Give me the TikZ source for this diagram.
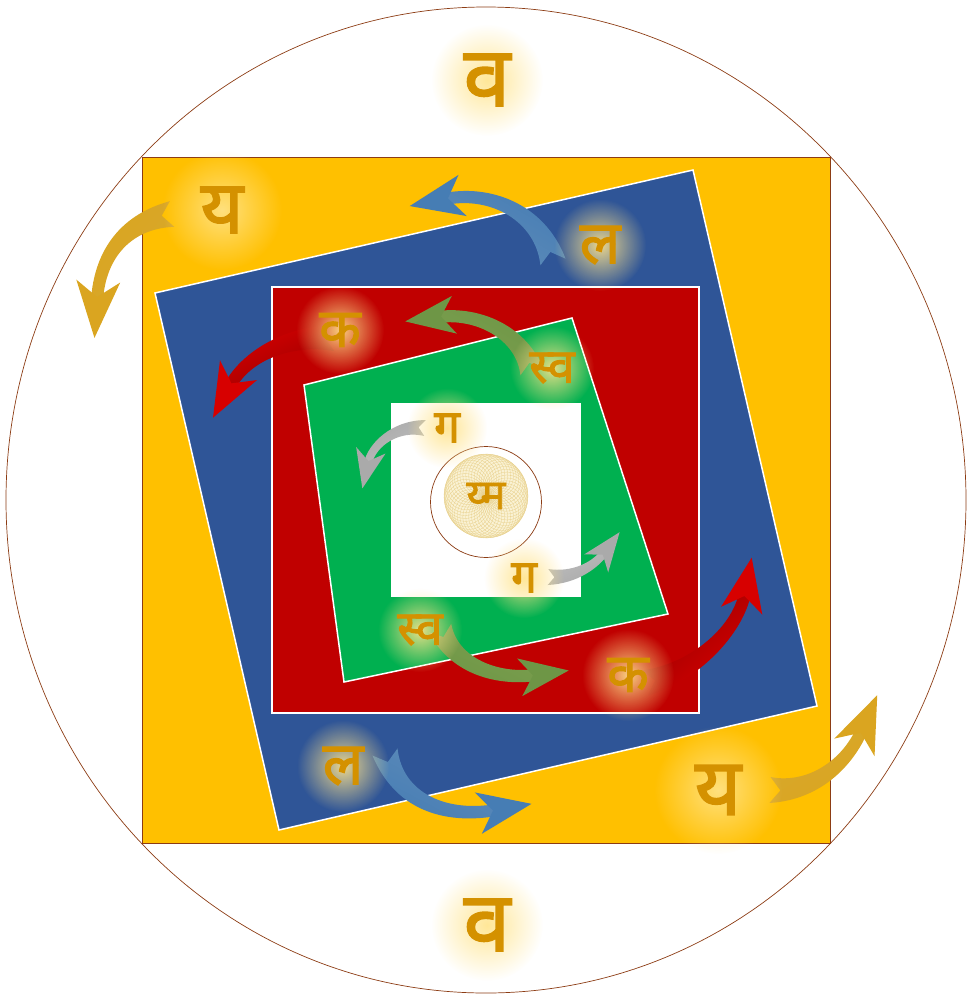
\documentclass[tikz,border=0pt]{standalone}
\usepackage{fontspec}
\newfontfamily\deva[Script=Devanagari, FakeBold=2]{Noto Sans}
\usetikzlibrary{calc,fadings}
\definecolor{ygold}{RGB}{255,192,0}
\definecolor{bblue}{RGB}{47,85,151}
\definecolor{rred}{RGB}{192,0,0}
\definecolor{ggreen}{RGB}{0,176,80}
\definecolor{brownline}{RGB}{140,60,20}
\definecolor{glyph}{RGB}{212,145,0}
\definecolor{glowc}{RGB}{255,228,140}
\definecolor{agold}{RGB}{218,165,32}
\definecolor{agoldT}{RGB}{215,168,45}
\definecolor{ablue}{RGB}{70,125,180}
\definecolor{ablueT}{RGB}{95,140,185}
\definecolor{ared}{RGB}{215,0,0}
\definecolor{aredT}{RGB}{150,0,0}
\definecolor{agreen}{RGB}{110,150,70}
\definecolor{agreenT}{RGB}{125,160,80}
\definecolor{agrey}{RGB}{170,170,170}
\definecolor{agreyT}{RGB}{190,190,190}
\definecolor{spirofill}{RGB}{250,242,212}
\definecolor{spiroline}{RGB}{232,208,140}
\tikzfading[name=glowfade, inner color=transparent!0, outer color=transparent!100]
\tikzset{
  syl/.style={font=\deva, text=glyph, inner sep=0pt},
  glow/.style={fill=glowc, path fading=glowfade, opacity=0.9},
  sqborder/.style={draw=white, line width=1.5pt},
}
% sizes: tail half width, neck half width, head length, head half width
\newcommand\swsize[4]{\def\swT{#1}\def\swN{#2}\def\swL{#3}\def\swW{#4}}
% #1 tail colour, #2 head colour, #3 tail, #4 ctrl1, #5 ctrl2, #6 head notch point
\newcommand\swoosh[6]{%
  \coordinate (sT) at #3; \coordinate (sA) at #4; \coordinate (sB) at #5; \coordinate (sE) at #6;
  \coordinate (sT1) at ($(sT)!\swT!-90:(sA)$);
  \coordinate (sT2) at ($(sT)!\swT!90:(sA)$);
  \coordinate (sN) at ($(sT)!0.8*\swT!(sA)$);
  \coordinate (sA1) at ($(sA)!0.8*\swT!-90:(sB)$);
  \coordinate (sA2) at ($(sA)!0.8*\swT!90:(sB)$);
  \coordinate (sB1) at ($(sB)!\swN!-90:(sE)$);
  \coordinate (sB2) at ($(sB)!\swN!90:(sE)$);
  \coordinate (sE1) at ($(sE)!\swN!90:(sB)$);
  \coordinate (sE2) at ($(sE)!\swN!-90:(sB)$);
  \coordinate (sTip) at ($(sE)!-\swL!(sB)$);
  \coordinate (sQ) at ($(sE)!0.5*\swL!(sB)$);
  \coordinate (sH1) at ($(sQ)!\swW!90:(sB)$);
  \coordinate (sH2) at ($(sQ)!\swW!-90:(sB)$);
  \pgfmathanglebetweenpoints{\pgfpointanchor{sT}{center}}{\pgfpointanchor{sE}{center}}%
  \let\sang\pgfmathresult
  \shade[left color=#1, right color=#2, shading angle=\sang] (sT1) .. controls (sA1) and (sB1) .. (sE1) -- (sE2) .. controls (sB2) and (sA2) .. (sT2) -- (sN) -- cycle;
  \fill[#2] (sTip) -- (sH1) -- ($(sE)!0.5*\swN!(sB)$) -- (sH2) -- cycle;
}
\begin{document}
\begin{tikzpicture}[x=1pt,y=-1pt]
\useasboundingbox (0,0) rectangle (972,994);
% outer circle
\draw[brownline, line width=0.7pt] (486,500) ellipse [x radius=480, y radius=493];
% yellow square
\fill[ygold, draw=brownline, line width=0.6pt] (142,157) rectangle (830,843);
% blue rotated square
\filldraw[bblue, sqborder] (155,293) -- (693,170) -- (817,706) -- (279,830) -- cycle;
% red square
\filldraw[rred, sqborder] (272,287) rectangle (699,713);
% green quad
\filldraw[ggreen, sqborder] (304,385) -- (572,318) -- (668,614) -- (344,682) -- cycle;
% white square
\fill[white] (391,403) rectangle (581,597);
% inner circle + spirograph
\draw[brownline, line width=0.7pt] (486,502) circle (55.5);
\fill[spirofill] (486,496) circle (42);
\foreach \a in {0,8,...,352} \draw[spiroline, line width=0.3pt] ($(486,496)+(\a:21)$) circle (21);
% arrows
\swsize{13pt}{6pt}{38pt}{22pt}
\swoosh{agoldT}{agold}{(172,214)}{(125,222)}{(100,255)}{(97,300)}
\swoosh{agoldT}{agold}{(770,790)}{(815,792)}{(848,762)}{(862,730)}
\swsize{13pt}{6pt}{36pt}{21pt}
\swoosh{ablueT}{ablue}{(553,262)}{(540,212)}{(490,190)}{(445,199)}
\swoosh{ablueT}{ablue}{(385,752)}{(400,805)}{(450,818)}{(496,810)}
\swoosh{aredT}{ared}{(335,338)}{(285,335)}{(245,358)}{(230,386)}
\swoosh{aredT}{ared}{(645,683)}{(695,672)}{(738,630)}{(745,593)}
\swsize{12pt}{6pt}{33pt}{19pt}
\swoosh{agreenT}{agreen}{(532,372)}{(520,330)}{(475,312)}{(438,317)}
\swoosh{agreenT}{agreen}{(440,628)}{(455,668)}{(500,680)}{(536,675)}
\swsize{8pt}{4pt}{26pt}{15pt}
\swoosh{agreyT}{agrey}{(425,428)}{(395,425)}{(372,445)}{(368,463)}
\swoosh{agreyT}{agrey}{(548,577)}{(575,578)}{(595,565)}{(604,553)}
% glows
\foreach \x/\y/\r in {487/80/56, 487/925/56, 222/210/60, 718/790/64, 600/245/46, 343/766/46, 340/330/44, 628/675/46, 552/368/42, 420/630/42, 447/428/40, 524/578/40}
  \fill[glow] (\x,\y) circle (\r);
% glyphs
\node[syl, font=\deva\fontsize{84}{86}\selectfont] (vaT) at (487,80) {व};
\node[syl, font=\deva\fontsize{84}{86}\selectfont] (vaB) at (487,925) {व};
\node[syl, font=\deva\fontsize{74}{76}\selectfont] (yaT) at (222,210) {य};
\node[syl, font=\deva\fontsize{80}{82}\selectfont] (yaB) at (718,790) {य};
\node[syl, font=\deva\fontsize{60}{62}\selectfont] (laT) at (600,245) {ल};
\node[syl, font=\deva\fontsize{60}{62}\selectfont] (laB) at (343,766) {ल};
\node[syl, font=\deva\fontsize{54}{56}\selectfont] (kaL) at (340,330) {क};
\node[syl, font=\deva\fontsize{54}{56}\selectfont] (kaR) at (628,675) {क};
\node[syl, font=\deva\fontsize{48}{50}\selectfont] (svT) at (552,368) {स्व};
\node[syl, font=\deva\fontsize{48}{50}\selectfont] (svB) at (420,630) {स्व};
\node[syl, font=\deva\fontsize{46}{48}\selectfont] (gaT) at (447,428) {ग};
\node[syl, font=\deva\fontsize{46}{48}\selectfont] (gaB) at (524,578) {ग};
\node[syl, font=\deva\fontsize{42}{44}\selectfont] (ctr) at (486,496) {य्म};
\end{tikzpicture}
\end{document}
